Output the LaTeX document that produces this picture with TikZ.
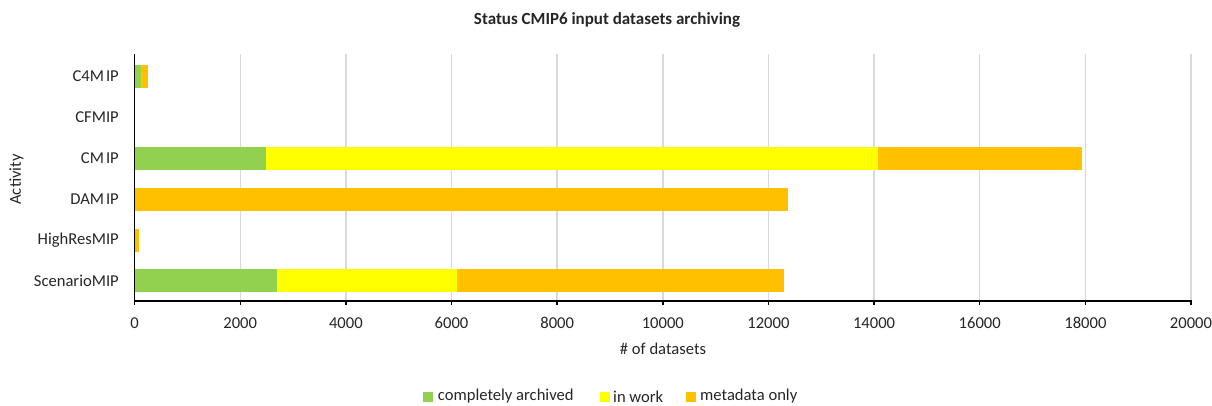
\documentclass[tikz,border=0pt]{standalone}
\usepackage{fontspec}
\setmainfont{Carlito}
\definecolor{cgreen}{HTML}{92D050}
\definecolor{cyellow}{HTML}{FFFF00}
\definecolor{corange}{HTML}{FFC000}
\definecolor{cgrid}{HTML}{D9D9D9}
\definecolor{ctext}{HTML}{262626}
\begin{document}
\begin{tikzpicture}[x=1pt,y=-1pt,
  lbl/.style={font=\fontsize{16.6}{18}\selectfont, text=ctext, inner sep=0pt},
  ttl/.style={font=\bfseries\fontsize{17}{19}\selectfont, text=ctext, inner sep=0pt},
  grid line/.style={draw=cgrid, line width=1.4pt},
  axis line/.style={draw=black, line width=1.4pt},
  lgbox/.style={minimum size=10pt, inner sep=0pt}]
\useasboundingbox (0,0) rectangle (1212,405);
% values in hundreds of datasets; 1 hundred = 5.282pt
% gridlines
\foreach \v in {20,40,...,200}{
  \draw[grid line] ({134.6+5.282*\v},54) -- ({134.6+5.282*\v},301);
}
% bars: centre y, green end, yellow end, orange end (cumulative, hundreds)
\newcommand\stackbar[4]{%
  \fill[cgreen] (134.6,#1-11.5) rectangle ({134.6+5.282*#2},#1+11.5);
  \fill[cyellow] ({134.6+5.282*#2},#1-11.5) rectangle ({134.6+5.282*#3},#1+11.5);
  \fill[corange] ({134.6+5.282*#3},#1-11.5) rectangle ({134.6+5.282*#4},#1+11.5);
}
\stackbar{76}{1.17}{1.17}{2.5}
\stackbar{158}{24.87}{140.72}{179.32}
\stackbar{199}{0}{0}{123.69}
\stackbar{240}{0}{0}{0.9}
\stackbar{280.5}{26.94}{61.00}{122.88}
% axes
\draw[axis line] (134.6,54) -- (134.6,305);
\draw[axis line] (133.9,301) -- (1191.6,301);
\foreach \v in {20,40,...,200}{
  \draw[axis line] ({134.6+5.282*\v},301) -- ({134.6+5.282*\v},305);
}
% tick labels
\foreach \v/\t [count=\i] in {0/0,20/2000,40/4000,60/6000,80/8000,100/10000,120/12000,140/14000,160/16000,180/18000,200/20000}{
  \node[lbl] (t\i) at ({134.6+5.282*\v},323) {\t};
}
% category labels
\node[lbl, anchor=east] (c1) at (119,76) {C4M\kern2pt IP};
\node[lbl, anchor=east] (c2) at (119,117) {CFMIP};
\node[lbl, anchor=east] (c3) at (119,158) {CM\kern2pt IP};
\node[lbl, anchor=east] (c4) at (119,199) {DAM\kern2pt IP};
\node[lbl, anchor=east] (c5) at (119,240) {HighResMIP};
\node[lbl, anchor=east] (c6) at (119,280.5) {ScenarioMIP};
% titles
\node[ttl] (title) at (607,20) {Status CMIP6 input datasets archiving};
\node[lbl, rotate=90] (ytitle) at (16.5,179.5) {Activity};
\node[lbl] (xtitle) at (663,349) {\# of datasets};
% legend
\node[lgbox, fill=cgreen] (l1) at (428.3,397) {};
\node[lbl, anchor=west] (lt1) at (437.7,396.5) {completely archived};
\node[lgbox, fill=cyellow] (l2) at (605,397) {};
\node[lbl, anchor=west] (lt2) at (613,396.5) {in work};
\node[lgbox, fill=corange] (l3) at (691,397) {};
\node[lbl, anchor=west] (lt3) at (700,396.5) {metadata only};
\end{tikzpicture}
\end{document}
